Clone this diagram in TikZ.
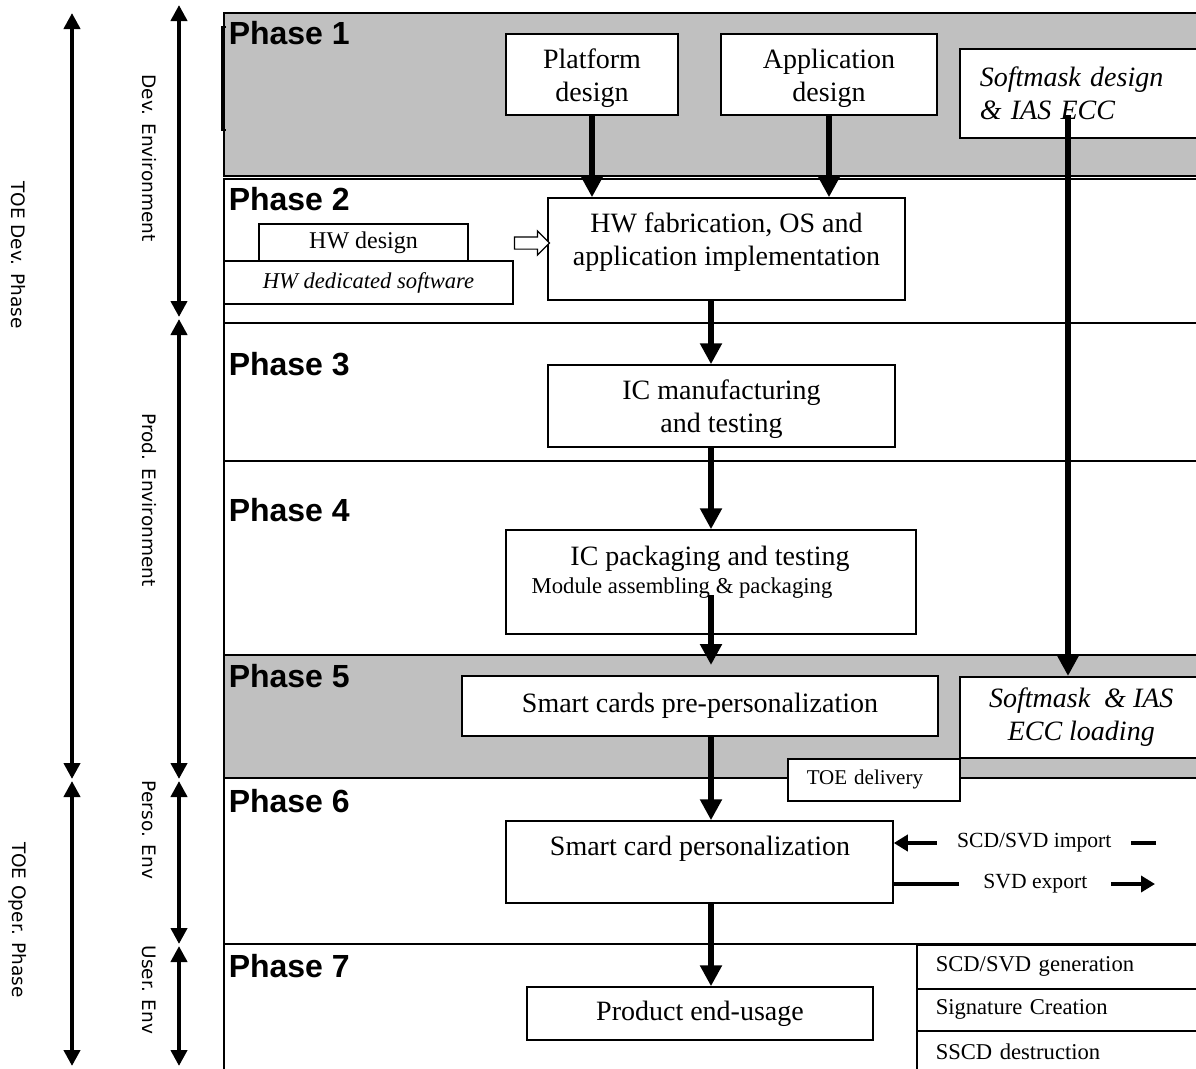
\documentclass[tikz,border=0pt]{standalone}
\usepackage{fontspec}
\setmainfont{Liberation Serif}
\setsansfont{Liberation Sans}
\newfontfamily\sidefont{DejaVu Sans}
\usetikzlibrary{arrows.meta,shapes.arrows}
\definecolor{bandgray}{RGB}{192,192,192}

\begin{document}
\begin{tikzpicture}[x=1pt, y=-1pt, line width=1.5pt,
box_style/.style={rectangle,draw=black,fill=white,inner sep=0pt,font=\fontsize{28}{33}\selectfont,align=center},
text_style/.style={inner sep=0pt,font=\fontsize{28}{33}\selectfont,align=center},
list_style/.style={rectangle,draw=black,fill=white,anchor=north west,minimum width=290pt,inner xsep=19pt,text width=252pt,align=left,font=\fontsize{22.6}{27}\selectfont},
phase_style/.style={anchor=base west,inner sep=0pt,font=\sffamily\bfseries\fontsize{32}{36}\selectfont},
side_style/.style={rotate=-90,inner sep=0pt,font=\sidefont\fontsize{18.5}{22}\selectfont},
arrow_style/.style={draw=black,line width=6pt,-{Triangle[width=21pt,length=21pt]}},
io_arrow/.style={draw=black,line width=3.5pt,-{Triangle[width=16pt,length=14pt]}},
side_arrow/.style={draw=black,line width=4pt,{Triangle[width=16pt,length=16pt]}-{Triangle[width=16pt,length=16pt]}},
band_style/.style={draw=black,line width=1.5pt}]

\clip (0,0) rectangle (1196,1068);

% phase bands
\draw[band_style,fill=bandgray] (224,13) rectangle (1210,176);
\draw[band_style] (224,179) rectangle (1210,323);
\draw[band_style] (224,323) rectangle (1210,461);
\draw[band_style] (224,461) rectangle (1210,655);
\draw[band_style,fill=bandgray] (224,655) rectangle (1210,778);
\draw[band_style] (224,778) rectangle (1210,944);
\draw[band_style] (224,944) rectangle (1210,1080);
\draw[band_style] (226,27) -- (222,27) -- (222,130) -- (226,130);

\node[phase_style] (ph1) at (228,44.5) {Phase 1};
\node[phase_style] (ph2) at (228,210.5) {Phase 2};
\node[phase_style] (ph3) at (228,375.5) {Phase 3};
\node[phase_style] (ph4) at (228,521.5) {Phase 4};
\node[phase_style] (ph5) at (228,687.5) {Phase 5};
\node[phase_style] (ph6) at (228,812.5) {Phase 6};
\node[phase_style] (ph7) at (228,977.5) {Phase 7};

% boxes
\node[box_style,minimum width=172pt,minimum height=81pt] (plat) at (592,74.5) {};
\node[text_style] (plattxt) at (592,78) {Platform\\design};
\node[box_style,minimum width=216pt,minimum height=81pt] (app) at (829,74.5) {};
\node[text_style] (apptxt) at (829,78) {Application\\design};
\node[box_style,anchor=north west,minimum width=250pt,minimum height=89pt,inner xsep=20pt,text width=210pt,align=left,font=\itshape\fontsize{28}{33}\selectfont] (smdes) at (959,48) {Softmask design\\\& IAS ECC};

\node[box_style,minimum width=357pt,minimum height=102pt] (hwfab) at (726.5,249) {};
\node[text_style] (hwfabtxt) at (726.5,242) {HW fabrication, OS and\\application implementation};
\node[box_style,minimum width=209pt,minimum height=38pt,font=\fontsize{24}{28}\selectfont] (hwdes) at (363.5,243) {HW design};
\node[box_style,minimum width=289pt,minimum height=43pt,font=\itshape\fontsize{22.6}{27}\selectfont] (hwsw) at (368.5,282.5) {HW dedicated software};
\node[single arrow,draw=black,fill=white,line width=1.2pt,inner xsep=0pt,inner ysep=5.5pt,single arrow head extend=6pt,minimum height=35pt] (hwarr) at (529,243) {};

\node[box_style,minimum width=347pt,minimum height=82pt] (icman) at (721.5,406) {};
\node[text_style] (icmantxt) at (721.5,409) {IC manufacturing\\and testing};

\node[box_style,minimum width=410pt,minimum height=104pt] (pack) at (711,582) {};
\node[text_style] (packtxt) at (710,559) {IC packaging and testing};
\node[text_style,font=\fontsize{22.7}{27}\selectfont] (packsub) at (682,588) {Module assembling \& packaging};

\node[box_style,minimum width=476pt,minimum height=60pt] (preperso) at (700,706) {Smart cards pre-personalization};
\node[box_style,anchor=north west,minimum width=243pt,minimum height=81pt,font=\itshape\fontsize{28}{33}\selectfont] (smload) at (959,676) {Softmask\ \ \& IAS\\ECC loading};
\node[box_style,anchor=north west,minimum width=172pt,minimum height=42pt,inner xsep=19pt,text width=134pt,align=left,font=\fontsize{21}{25}\selectfont] (toedel) at (787,758) {TOE delivery};

\node[box_style,minimum width=387pt,minimum height=82pt] (perso) at (699.5,862) {};
\node[text_style] (persotxt) at (700,849) {Smart card personalization};

\node[box_style,minimum width=346pt,minimum height=53pt] (enduse) at (700,1013.5) {Product end-usage};
\node[list_style,minimum height=44pt] (gen) at (916,944) {SCD/SVD generation};
\node[list_style,minimum height=42pt] (sig) at (916,988) {Signature Creation};
\node[list_style,minimum height=42pt] (dest) at (916,1030) {SSCD destruction};

% flow arrows
\coordinate (spine) at (711,0);
\coordinate (packarr) at (711,595);
\coordinate (phfive) at (711,665);
\coordinate (smarr) at (1068,115);
\draw[arrow_style] (plat.south) -- (plat.south |- hwfab.north);
\draw[arrow_style] (app.south) -- (app.south |- hwfab.north);
\draw[arrow_style] (hwfab.south -| spine) -- (icman.north -| spine);
\draw[arrow_style] (icman.south -| spine) -- (pack.north -| spine);
\draw[arrow_style] (packarr) -- (phfive);
\draw[arrow_style] (preperso.south -| spine) -- (perso.north -| spine);
\draw[arrow_style] (perso.south -| spine) -- (enduse.north -| spine);
\draw[arrow_style] (smarr) -- (smarr |- smload.north);

% import / export
\coordinate (impend) at (1156,843);
\coordinate (expend) at (1155,884);
\draw[io_arrow] (impend) -- (perso.east |- impend)
  node[pos=0.464,fill=white,inner xsep=20pt,inner ysep=2pt,font=\fontsize{21.6}{26}\selectfont] (imptxt) {SCD/SVD import};
\draw[io_arrow] (perso.east |- expend) -- (expend)
  node[pos=0.542,fill=white,inner xsep=24pt,inner ysep=2pt,font=\fontsize{21.6}{26}\selectfont] (exptxt) {SVD export};

% side arrows
\coordinate (toetop) at (72,13);
\coordinate (toemida) at (72,779);
\coordinate (toemidb) at (72,781);
\coordinate (toebot) at (72,1066);
\coordinate (envtop) at (179,5);
\coordinate (enva) at (179,317);
\coordinate (envb) at (179,319);
\coordinate (envc) at (179,779);
\coordinate (envd) at (179,781);
\coordinate (enve) at (179,944);
\coordinate (envf) at (179,946);
\coordinate (envbot) at (179,1066);
\draw[side_arrow] (toetop) -- (toemida);
\draw[side_arrow] (toemidb) -- (toebot);
\draw[side_arrow] (envtop) -- (enva);
\draw[side_arrow] (envb) -- (envc);
\draw[side_arrow] (envd) -- (enve);
\draw[side_arrow] (envf) -- (envbot);

\node[side_style] (toedev) at (18,255) {TOE Dev. Phase};
\node[side_style] (toeoper) at (18,920) {TOE Oper. Phase};
\node[side_style] (devenv) at (149,158) {Dev. Environment};
\node[side_style] (prodenv) at (149,500) {Prod. Environment};
\node[side_style] (persoenv) at (149,830) {Perso. Env};
\node[side_style] (userenv) at (149,990) {User. Env};

\end{tikzpicture}
\end{document}
